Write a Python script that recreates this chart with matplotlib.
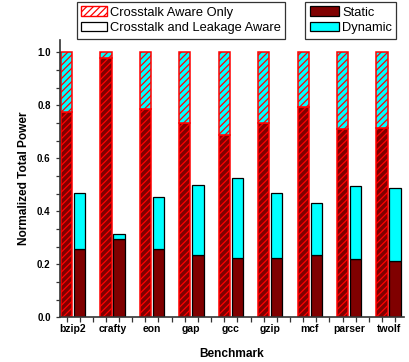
import numpy as np
import matplotlib
matplotlib.use("Agg")
import matplotlib.pyplot as plt
from matplotlib.patches import Patch
from matplotlib.ticker import FixedLocator, NullFormatter, FixedFormatter

plt.rcParams['font.family'] = ['Liberation Sans', 'DejaVu Sans']

benchmarks = ['bzip2', 'crafty', 'eon', 'gap', 'gcc', 'gzip', 'mcf', 'parser', 'twolf']

# Crosstalk Aware Only (normalized, total = 1.0)
xt_static = [0.776, 0.977, 0.787, 0.734, 0.686, 0.734, 0.795, 0.711, 0.713]
xt_total = [1.0, 1.0, 1.0, 1.0, 1.0, 1.0, 1.0, 1.0, 1.0]

# Crosstalk and Leakage Aware
xl_static = [0.257, 0.296, 0.258, 0.236, 0.223, 0.223, 0.236, 0.220, 0.212]
xl_total = [0.468, 0.315, 0.454, 0.499, 0.525, 0.467, 0.432, 0.497, 0.489]

STATIC = '#800000'
DYNAMIC = '#00FFFF'
HATCH_RED = '#FF0000'

xt_static = np.array(xt_static)
xt_dyn = np.array(xt_total) - xt_static
xl_static = np.array(xl_static)
xl_dyn = np.array(xl_total) - xl_static

fig = plt.figure(figsize=(4.09, 3.62), dpi=100)
ax = fig.add_axes([60 / 409, 1 - 317.3 / 362, 344 / 409, 277.3 / 362])

x = np.arange(len(benchmarks))
w = 0.286
off = 0.165

plt.rcParams['hatch.linewidth'] = 0.9

# left bars: crosstalk aware only (hatched)
ax.bar(x - off, xt_static, w, color=STATIC, edgecolor=HATCH_RED, hatch='/////', linewidth=1.1)
ax.bar(x - off, xt_dyn, w, bottom=xt_static, color=DYNAMIC, edgecolor=HATCH_RED,
       hatch='/////', linewidth=1.1)
# right bars: crosstalk and leakage aware
ax.bar(x + off, xl_static, w, color=STATIC, edgecolor='black', linewidth=0.9)
ax.bar(x + off, xl_dyn, w, bottom=xl_static, color=DYNAMIC, edgecolor='black', linewidth=0.9)

ax.set_xlim(-0.33, 8.39)
ax.set_ylim(0, 1.046)

for s in ['top', 'right']:
    ax.spines[s].set_visible(False)
for s in ['left', 'bottom']:
    ax.spines[s].set_linewidth(1.2)
    ax.spines[s].set_color('#333333')

# y axis ticks
ax.yaxis.set_major_locator(FixedLocator([0.0, 0.2, 0.4, 0.6, 0.8, 1.0]))
ax.yaxis.set_minor_locator(FixedLocator([v for v in np.arange(0, 1.0001, 0.2 / 3)]))
ax.set_yticklabels(['0.0', '0.2', '0.4', '0.6', '0.8', '1.0'])
ax.tick_params(axis='y', which='both', direction='out', length=3.2, width=0.9,
               color='#333333', pad=3.5)
ax.tick_params(axis='y', which='major', labelsize=7)
for t in ax.get_yticklabels():
    t.set_fontweight('bold')

# x axis: ticks at bar centres and group gaps, labels at group centres
major_pos = sorted(list(x - off) + list(x + off) + list(np.arange(0.5, 8, 1.0)))
ax.xaxis.set_major_locator(FixedLocator(major_pos))
ax.xaxis.set_major_formatter(NullFormatter())
ax.xaxis.set_minor_locator(FixedLocator(x))
ax.xaxis.set_minor_formatter(FixedFormatter(benchmarks))
ax.tick_params(axis='x', which='major', direction='out', length=3.5, width=0.9, color='#333333')
ax.tick_params(axis='x', which='minor', length=0, pad=5, labelsize=7.5)
for t in ax.get_xticklabels(minor=True):
    t.set_fontweight('bold')

ax.set_xlabel('Benchmark', fontsize=8.6, fontweight='bold', labelpad=10)
ax.set_ylabel('Normalized Total Power', fontsize=8.6, fontweight='bold', labelpad=5)

leg_kw = dict(fontsize=9.3, loc='upper left', frameon=True, fancybox=False,
              handlelength=2.0, handleheight=0.75, handletextpad=0.2,
              borderpad=0.36, labelspacing=0.26, borderaxespad=0)

h1 = [Patch(facecolor='white', edgecolor=HATCH_RED, hatch='/////', linewidth=1.0),
      Patch(facecolor='white', edgecolor='black', linewidth=0.9)]
leg1 = fig.legend(h1, ['Crosstalk Aware Only', 'Crosstalk and Leakage Aware'],
                  bbox_to_anchor=(76.7 / 409, 1 - 1.7 / 362), **leg_kw)
leg1.get_frame().set_edgecolor('black')
leg1.get_frame().set_linewidth(0.9)

h2 = [Patch(facecolor=STATIC, edgecolor='black', linewidth=0.9),
      Patch(facecolor=DYNAMIC, edgecolor='black', linewidth=0.9)]
leg_kw2 = dict(leg_kw)
leg_kw2['handlelength'] = 2.3
leg2 = fig.legend(h2, ['Static', 'Dynamic'],
                  bbox_to_anchor=(305 / 409, 1 - 1.7 / 362), **leg_kw2)
leg2.get_frame().set_edgecolor('black')
leg2.get_frame().set_linewidth(0.9)

fig.savefig('out.png', dpi=100)
